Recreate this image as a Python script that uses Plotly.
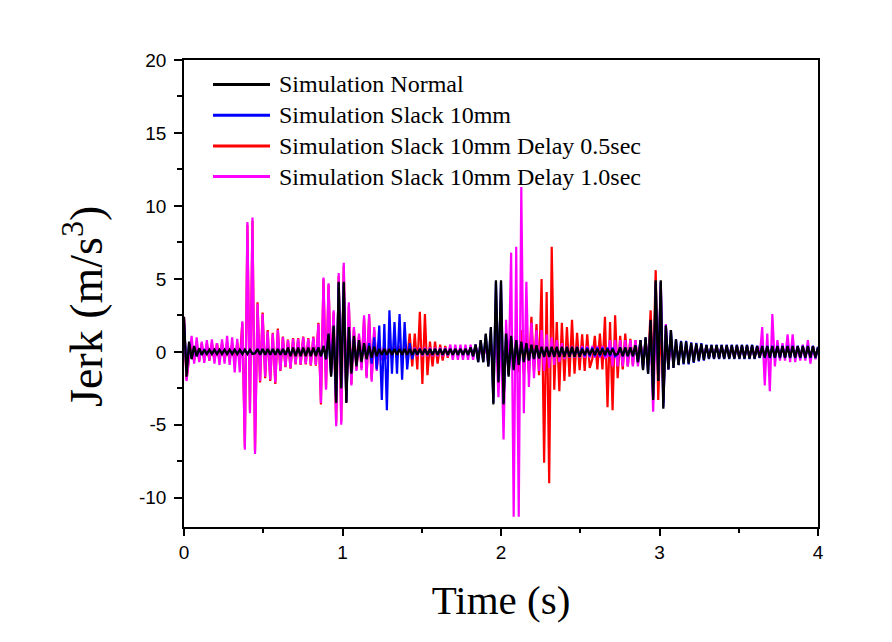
import plotly.graph_objects as go

# spacing (s) between successive extrema
HALF_PERIOD = 0.016

# ---- Simulation Normal (black) : extrema, one every HALF_PERIOD from t = 0
normal_jerk = (
    [2.4, -1.7, 0.7, -0.5, 0.4, -0.3, 0.25, -0.2]
    + [0.15, -0.15] * 10
    + [-0.1]
    + [0.2, -0.2] * 6
    + [0.3, -0.3] * 6
    + [0.3, -0.3, 0.4, -0.5, 1.25, -1.7, 1.8, -3.5, 4.8, -2.5, 4.8, -3.5,
       1.7, -1.5, 1.1, -1.0, 0.8, -0.7, 0.6, -0.5, 0.4, -0.4, 0.35, -0.3]
    + [0.2, -0.2] * 18
    + [0.3, -0.3, 0.5, -0.7, 0.8, -0.7, 1.25, -1.0, 1.7, -3.6, 4.9, -2.1, 4.9, -3.6,
       1.25, -1.7, 1.1, -1.25, 0.8, -0.9, 0.7, -0.7, 0.6, -0.6, 0.5, -0.5, 0.45, -0.45]
    + [0.35, -0.35] * 8
    + [0.2, -0.2] * 7
    + [-0.15]
    + [0.3, -0.3] * 3
    + [0.45, -0.7, 0.8, -1.25, 1.0, -1.5, 2.2, -3.3, 4.9, -2.0, 4.9, -3.9, 1.8, -1.2,
       1.5, -1.1, 0.85, -0.9, 0.7, -0.8, 0.7, -0.8, 0.6, -0.7, 0.57, -0.6, 0.55, -0.55]
    + [0.45, -0.45] * 10
    + [0.38, -0.38] * 12
    + [0.3]
)

# ---- Simulation Slack 10mm (blue)
slack_jerk = (
    [2.0, -1.3, 0.6, -0.45, 0.35, -0.3, 0.2, -0.2]
    + [0.12, -0.12] * 10
    + [-0.1]
    + [0.18, -0.18] * 12
    + [0.3, -0.3, 0.4, -0.5, 1.2, -1.6, 1.7, -3.4, 4.7, -2.4, 4.7, -3.4,
       1.6, -1.4, 1.0, -0.9, 0.7, -0.6, 0.5, -0.5, 0.6, -0.8, 1.0, -1.2]
    + [1.8, -3.3, 1.9, -4.0, 2.85, -1.5, 2.05, -1.5, 2.6, -1.9, 2.05, -1.2, 0.6, -0.5]
    + [0.2, -0.2] * 11
    + [0.3, -0.3, 0.5, -0.7, 0.8, -0.7, 1.2, -1.0, 1.6, -3.5, 4.8, -2.0, 4.8, -3.5,
       1.2, -1.6, 1.0, -1.2, 0.8, -0.85, 0.65, -0.65, 0.55, -0.55, 0.45, -0.45, 0.4, -0.4]
    + [0.3, -0.3] * 15
    + [-0.15]
    + [0.3, -0.3] * 3
    + [0.45, -0.7, 0.8, -1.2, 1.0, -1.5, 2.1, -3.2, 4.8, -2.0, 4.8, -3.8, 1.8, -1.2,
       1.5, -1.1, 0.85, -0.9, 0.75, -0.85, 0.75, -0.85, 0.65, -0.75, 0.62, -0.65, 0.6, -0.6]
    + [0.5, -0.5] * 10
    + [0.42, -0.42] * 12
    + [0.35]
)

# ---- Simulation Slack 10mm Delay 0.5sec (red)
delay05_jerk = (
    [2.3, -1.9, -0.4]
    + [0.6, -0.6] * 10
    + [2.0, -6.5, 8.7, -4.0, 9.0, -6.8, 3.4, -2.1, 2.7, -1.8, 1.5, -2.0, 1.3, -2.2,
       1.6, -1.3, 1.05, -1.05, 0.85, -1.15]
    + [0.95, -0.85, 0.95, -0.9, 1.05, -0.85, 0.95, -0.95, 1.05, -0.95]
    + [2.0, -3.6, 5.0, -2.5, 4.6, -1.4, 2.7, -4.9, 5.2, -4.8, 5.9, -3.4, 3.2, -2.2,
       1.6, -1.2, 1.1, -1.1, 2.3, -1.7, 2.4, -1.9, 1.5, -1.1]
    + [0.4, -0.4] * 5
    + [0.5, -0.6, 1.25, -1.0, 1.25, -1.2, 2.75, -2.2, 2.6, -1.6, 0.7, -1.0, 0.7, -0.8,
       0.5, -0.6, 0.4, -0.4]
    + [0.3, -0.3] * 11
    + [0.5, -0.8, 1.0, -1.2, 1.3, -1.4, 1.5, -1.5, 1.25, -1.5, 2.4, -1.3, 1.9, -1.6]
    + [5.0, -7.6, 4.1, -9.0, 7.2, -2.6, 2.05, -2.7, 2.0, -2.0, 1.7, -1.7, 2.2, -1.5,
       1.3, -1.25, 1.2, -1.3, 1.2, -1.1]
    + [-0.5]
    + [1.1, -1.2, 1.25, -1.2, 2.4, -3.8, 2.05, -4.0, 2.5, -1.8, 1.1, -1.2, 1.25, -1.0,
       0.9, -0.9, 0.8, -0.8, 0.7, -0.8, 0.7, -0.8]
    + [2.85, -1.5, 5.6, -3.3, 2.0, -2.5, 1.2, -0.9, 0.6, -0.6]
    + [0.35, -0.35] * 28
    + [0.3]
)

# ---- Simulation Slack 10mm Delay 1.0sec (magenta)
delay10_jerk = (
    [2.4, -2.0, -0.4]
    + [1.1, -0.8, 1.0, -0.7, 0.7, -0.75, 0.8, -0.6, 0.85, -0.8, 0.6, -0.9, 0.85, -0.8,
       1.1, -0.9, 1.0, -1.4, 0.9, -1.4]
    + [2.1, -6.7, 8.9, -4.2, 9.2, -7.0, 3.3, -2.0, 2.6, -1.7, 1.4, -1.9, 1.25, -2.1,
       1.5, -1.25, 1.0, -1.0, 0.8, -1.1]
    + [0.9, -0.8, 0.9, -0.85, 1.0, -0.8, 0.9, -0.9, 1.0, -0.9]
    + [1.9, -3.5, 5.1, -2.6, 4.7, -1.5, 2.85, -5.1, 5.4, -5.0, 6.1, -3.5, 3.4, -2.3,
       1.7, -1.3, 1.25, -1.25, 2.5, -1.8, 2.6, -2.05, 1.7, -1.3, 0.8, -0.6, 0.5, -0.5,
       0.4, -0.4]
    + [0.3, -0.3] * 11
    + [0.5, -0.55] * 7
    + [0.6, -0.8, 0.8, -1.0, 1.2, -3.1, 1.5, -6.0, 2.2, -1.5, 6.8, -11.3, 7.2, -11.3,
       11.3, -4.2, 4.8, -2.4, 2.0, -1.8, 1.5, -1.3, 1.5, -1.3, 1.2, -1.1, 1.0, -0.9,
       0.8, -0.7, 0.6, -0.5]
    + [0.4, -0.4] * 8
    + [-0.3]
    + [0.8, -1.0] * 8
    + [1.2, -4.1, 2.0, -1.2, 4.8, -3.5, 1.9, -1.2, 0.8, -0.6]
    + [0.4, -0.4] * 17
    + [1.7, -2.3, 1.25, -2.7, 2.6, -1.0, 0.8, -0.6, 0.6, -0.6, 1.2, -0.7, 1.2, -0.7,
       0.4, -0.6, 0.5, -0.6, 0.8, -0.8, 0.4, -0.5, 0.3]
)

series_names = ["Simulation Normal", "Simulation Slack 10mm",
                "Simulation Slack 10mm Delay 0.5sec", "Simulation Slack 10mm Delay 1.0sec"]
series_values = [normal_jerk, slack_jerk, delay05_jerk, delay10_jerk]
series_colors = ["#000000", "#0000FF", "#FF0000", "#FF00FF"]
draw_order = [2, 3, 1, 0]   # red, magenta, blue, black (black on top)

x_tick_vals = [0, 1, 2, 3, 4]
x_tick_text = ["0", "1", "2", "3", "4"]
y_tick_vals = [-10, -5, 0, 5, 10, 15, 20]
y_tick_text = ["-10", "-5", "0", "5", "10", "15", "20"]

fig = go.Figure()
for i in draw_order:
    vals = series_values[i]
    times = [k * HALF_PERIOD for k in range(len(vals))]
    fig.add_trace(go.Scatter(x=times, y=vals, mode="lines", name=series_names[i],
                             line=dict(color=series_colors[i], width=2.2),
                             showlegend=False, hoverinfo="skip"))

# target plot box in page pixels; the page body adds an 8 px margin
PAGE_OFFSET = 8
L, R, T, B = 184, 818, 60, 527
W, H = R - L, B - T

# hand-drawn legend (Origin style: long line samples)
legend_rows_px = [84.5, 115.3, 146.0, 176.5]
shapes, annotations = [], []
for i, py in enumerate(legend_rows_px):
    yp = (B - py) / H
    shapes.append(dict(type="line", xref="paper", yref="paper",
                       x0=(213 - L) / W, x1=(270 - L) / W, y0=yp, y1=yp,
                       line=dict(color=series_colors[i], width=3)))
    annotations.append(dict(xref="paper", yref="paper", x=(277 - L) / W, y=yp,
                            xanchor="left", yanchor="middle", showarrow=False,
                            text=series_names[i],
                            font=dict(family="Times New Roman, Liberation Serif, serif",
                                      size=24, color="black")))

# y-axis title placed as in the reference (slightly below the axis middle)
annotations.append(dict(xref="paper", yref="paper", x=(83 - L) / W, y=(B - 307) / H,
                        xanchor="center", yanchor="middle", showarrow=False,
                        textangle=-90, text="Jerk (m/s<sup>3</sup>)",
                        font=dict(family="Times New Roman, Liberation Serif, serif",
                                  size=46, color="black")))

tick_font = dict(family="Arial, Liberation Sans, sans-serif", size=19, color="black")
xtitle_font = dict(family="Times New Roman, Liberation Serif, serif", size=41, color="black")

fig.update_layout(
    width=892, height=642,
    margin=dict(l=L - PAGE_OFFSET, r=892 - (R - PAGE_OFFSET),
                t=T - PAGE_OFFSET, b=642 - (B - PAGE_OFFSET)),
    paper_bgcolor="white", plot_bgcolor="white",
    shapes=shapes, annotations=annotations,
    xaxis=dict(range=[0, 4], tickvals=x_tick_vals, ticktext=x_tick_text,
               ticks="outside", ticklen=7, tickwidth=1.5, tickcolor="black",
               minor=dict(dtick=0.5, tick0=0, ticks="outside", ticklen=4,
                          tickwidth=1.5, tickcolor="black"),
               showline=True, linewidth=1.5, linecolor="black", mirror=True,
               showgrid=False, zeroline=False, tickfont=tick_font,
               ticklabelstandoff=0,
               title=dict(text="Time (s)", font=xtitle_font, standoff=24)),
    yaxis=dict(range=[-12, 20], tickvals=y_tick_vals, ticktext=y_tick_text,
               ticks="outside", ticklen=8, tickwidth=1.5, tickcolor="black",
               minor=dict(dtick=2.5, tick0=0, ticks="outside", ticklen=5,
                          tickwidth=1.5, tickcolor="black"),
               showline=True, linewidth=1.5, linecolor="black", mirror=True,
               showgrid=False, zeroline=False, tickfont=tick_font,
               ticklabelstandoff=4),
)

fig.write_html("out.html")
